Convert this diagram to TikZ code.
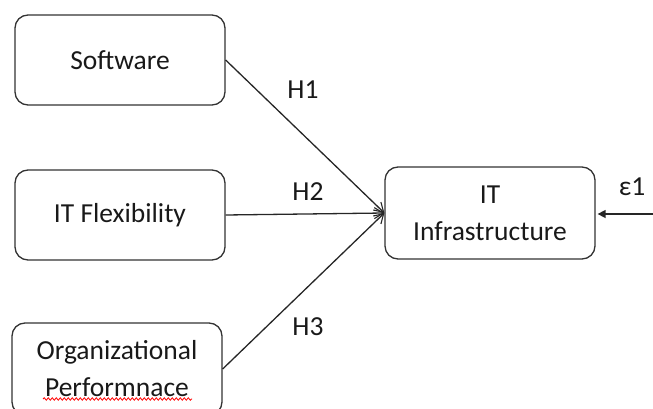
\documentclass[tikz,border=0pt]{standalone}
\usepackage{fontspec}
\setmainfont{Carlito}
\usetikzlibrary{arrows.meta,decorations.pathmorphing}
\begin{document}
\begin{tikzpicture}[x=1pt,y=-1pt,
  box/.style={draw=black!80, line width=1.3pt, rounded corners=13pt, minimum width=210pt, minimum height=90pt, align=center, inner sep=0pt, font=\fontsize{27.5}{37}\selectfont, text=black!90},
  lbl/.style={font=\fontsize{27.5}{32}\selectfont, text=black!90, inner sep=0pt},
  conn/.style={draw=black!85, line width=1.3pt, -{Straight Barb[length=9pt,width=11pt,line width=1.1pt]}},
  errarrow/.style={draw=black!85, line width=1.5pt, -{Triangle[length=8pt,width=8pt]}, shorten >=2pt}]
\useasboundingbox (0,0) rectangle (653,409);
\clip (0,0) rectangle (653,409);
\node[box] (sw) at (120,60) {Software};
\node[box] (flex) at (120,215) {IT Flexibility};
\node[box, minimum height=92pt] (org) at (117,369) {Organizational\\Performnace};
\node[box, minimum height=92pt] (infra) at (490,213) {IT\\Infrastructure};
\coordinate (eps) at (655,214);
\draw[conn] (sw.east) -- (infra.west);
\draw[conn] (flex.east) -- (infra.west);
\draw[conn] (org.east) -- (infra.west);
\draw[errarrow] (eps) -- (infra.east |- eps);
\node[lbl] (h1) at (303,90) {H1};
\node[lbl] (h2) at (308,192) {H2};
\node[lbl] (h3) at (308,327) {H3};
\node[lbl] (e1) at (632,187) {ε1};
\draw[red, line width=0.8pt, decorate, decoration={snake, amplitude=1.2pt, segment length=4pt}] (43,399) -- (192,399);
\end{tikzpicture}
\end{document}
